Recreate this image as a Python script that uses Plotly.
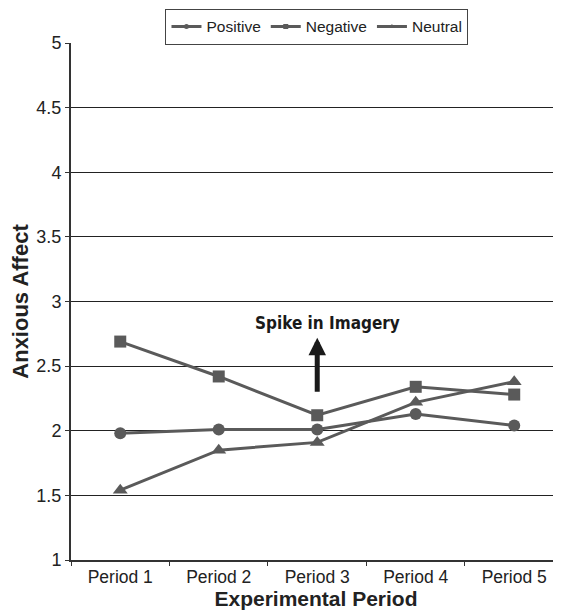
import plotly.graph_objects as go

periods = ["Period 1", "Period 2", "Period 3", "Period 4", "Period 5"]
positive = [1.98, 2.01, 2.01, 2.13, 2.04]
negative = [2.69, 2.42, 2.12, 2.34, 2.28]
neutral = [1.54, 1.85, 1.91, 2.22, 2.38]
y_ticks = [1, 1.5, 2, 2.5, 3, 3.5, 4, 4.5, 5]
y_tick_labels = ["1", "1.5", "2", "2.5", "3", "3.5", "4", "4.5", "5"]

line_col = "#5a5a5a"
fig = go.Figure()
series = [("Positive", positive, "circle", 12),
          ("Negative", negative, "square", 12),
          ("Neutral", neutral, "triangle-up", 13)]
for name, vals, sym, sz in series:
    fig.add_trace(go.Scatter(x=periods, y=vals, name=name, mode="lines+markers",
                             line=dict(color=line_col, width=3), showlegend=False,
                             marker=dict(symbol=sym, size=sz, color=line_col)))
# legend entries with small markers
for name, vals, sym, sz in series:
    fig.add_trace(go.Scatter(x=[None], y=[None], name=name, mode="lines+markers",
                             line=dict(color=line_col, width=3),
                             marker=dict(symbol=sym, size=5, color=line_col)))

fig.add_annotation(x=2, y=2.72, ax=2, ay=2.29, xref="x", yref="y", axref="x", ayref="y",
                   text="", showarrow=True, arrowhead=2, arrowsize=0.7, arrowwidth=5,
                   arrowcolor="#1a1a1a")
fig.add_annotation(x=2.1, y=2.83, xref="x", yref="y", text="<b>Spike in Imagery</b>",
                   showarrow=False,
                   font=dict(family="DejaVu Sans Condensed, Liberation Sans Narrow",
                             size=17, color="#1a1a1a"))

fig.update_layout(
    width=553, height=603,
    margin=dict(l=63, r=0, t=35, b=51),
    paper_bgcolor="white", plot_bgcolor="white",
    font=dict(family="Liberation Sans, Arial", size=17, color="#222"),
    legend=dict(orientation="h", x=0.502, xanchor="center", y=1.066, yanchor="top",
                bordercolor="#444", borderwidth=1, bgcolor="white",
                font=dict(size=15.5), tracegroupgap=0),
    xaxis=dict(range=[-0.5, 4.475], showline=True, linecolor="#333", linewidth=2,
               ticks="outside", tickson="boundaries", ticklen=4, tickcolor="#333",
               showgrid=False, zeroline=False, tickfont=dict(size=17.5),
               title=dict(text="<b>Experimental Period</b>", font=dict(size=21), standoff=1)),
    yaxis=dict(range=[1, 5], tickvals=y_ticks, ticktext=y_tick_labels,
               showline=True, linecolor="#333", linewidth=2,
               ticks="outside", ticklen=4, tickcolor="#333", tickfont=dict(size=18),
               showgrid=True, gridcolor="#222", gridwidth=1, zeroline=False,
               title=dict(text="<b>Anxious Affect</b>", font=dict(size=22), standoff=4)),
)
fig.write_html("out.html")
